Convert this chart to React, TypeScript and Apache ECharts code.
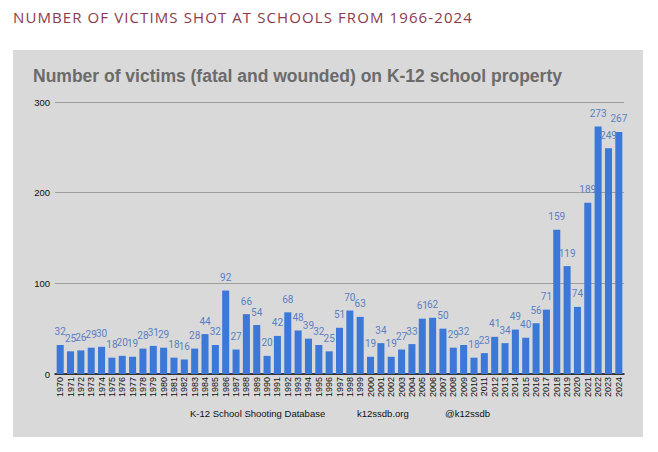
import React, { useEffect, useRef } from "react";
import * as echarts from "echarts";

const headerText = "NUMBER OF VICTIMS SHOT AT SCHOOLS FROM 1966-2024";
const years = [
  "1970","1971","1972","1973","1974","1975","1976","1977","1978","1979",
  "1980","1981","1982","1983","1984","1985","1986","1987","1988","1989",
  "1990","1991","1992","1993","1994","1995","1996","1997","1998","1999",
  "2000","2001","2002","2003","2004","2005","2006","2007","2008","2009",
  "2010","2011","2012","2013","2014","2015","2016","2017","2018","2019",
  "2020","2021","2022","2023","2024",
];
const victims = [
  32, 25, 26, 29, 30, 18, 20, 19, 28, 31,
  29, 18, 16, 28, 44, 32, 92, 27, 66, 54,
  20, 42, 68, 48, 39, 32, 25, 51, 70, 63,
  19, 34, 19, 27, 33, 61, 62, 50, 29, 32,
  18, 23, 41, 34, 49, 40, 56, 71, 159, 119,
  74, 189, 273, 249, 267,
];
const yTicks = [0, 100, 200, 300];
const footerTexts = ["K-12 School Shooting Database", "k12ssdb.org", "@k12ssdb"];

export default function App() {
  const ref = useRef<HTMLDivElement>(null);
  useEffect(() => {
    if (!ref.current) return;
    const chart = echarts.init(ref.current, null, { renderer: "svg" });
    chart.setOption({
      animation: false,
      backgroundColor: "transparent",
      title: [
        {
          text: "Number of victims (fatal and wounded) on K-12 school property",
          left: 28,
          top: 62,
          textStyle: {
            fontFamily: "Liberation Sans, Arial, sans-serif",
            fontWeight: "bold",
            fontSize: 17.5,
            color: "#6b6b6b",
          },
        },
      ],
      graphic: [
        {
          type: "rect",
          z: -10,
          silent: true,
          shape: { x: 13, y: 50, width: 630, height: 387 },
          style: { fill: "#d9d9d9" },
        },
        ...footerTexts.map((t, i) => ({
          type: "text",
          left: [190, 357, 445][i],
          top: 408,
          style: {
            text: t,
            fontFamily: "Liberation Sans, Arial, sans-serif",
            fontSize: 9.5,
            fill: "#111",
          },
        })),
      ],
      grid: { left: 55, right: 34, top: 102, bottom: 78, containLabel: false },
      xAxis: {
        type: "category",
        data: years,
        axisLine: { lineStyle: { color: "#111", width: 1.5 } },
        axisTick: { show: false },
        axisLabel: {
          rotate: 90,
          interval: 0,
          fontSize: 9,
          color: "#111",
          margin: 3,
          fontFamily: "Liberation Sans, Arial, sans-serif",
        },
      },
      yAxis: {
        type: "value",
        min: yTicks[0],
        max: yTicks[yTicks.length - 1],
        interval: 100,
        axisLine: { show: false },
        axisTick: { show: false },
        axisLabel: {
          fontSize: 9.5,
          color: "#111",
          margin: 5,
          fontFamily: "Liberation Sans, Arial, sans-serif",
        },
        splitLine: { lineStyle: { color: "#9f9f9f", width: 1 } },
      },
      series: [
        {
          type: "bar",
          data: victims,
          barWidth: "68%",
          itemStyle: { color: "#3c78d8" },
          label: {
            show: true,
            position: "top",
            distance: 8,
            fontSize: 10,
            color: "#5a7fc4",
            fontFamily: "Roboto, Arial, sans-serif",
          },
        },
      ],
    });
    return () => chart.dispose();
  }, []);
  return (
    <div style={{ position: "absolute", left: 0, top: 0, width: 658, height: 452, background: "#fff" }}>
      <div
        style={{
          position: "absolute",
          left: 13,
          top: 7,
          fontFamily: "'Open Sans', sans-serif",
          fontWeight: 400,
          fontSize: 15,
          lineHeight: "20px",
          letterSpacing: "1.1px",
          color: "#8a3a4c",
          whiteSpace: "nowrap",
        }}
      >
        {headerText}
      </div>
      <div
        ref={ref}
        style={{ position: "absolute", left: 0, top: 0, width: 658, height: 452 }}
      />
    </div>
  );
}
